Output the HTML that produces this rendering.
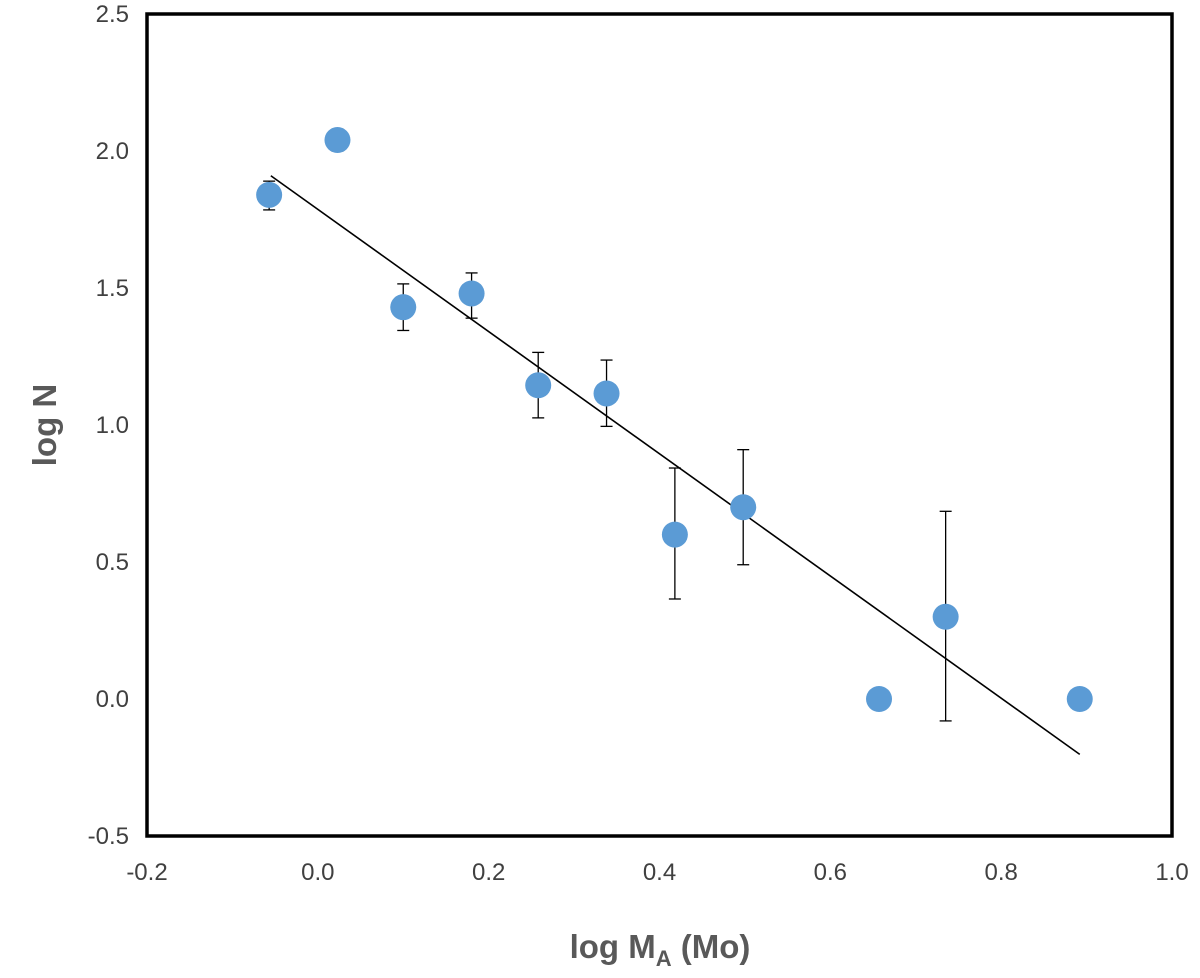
<!DOCTYPE html>
<html><head><meta charset="utf-8"><style>
body{margin:0;background:#fff;}
svg{display:block;font-family:"Liberation Sans",sans-serif;}
</style></head><body>
<svg id="chart" width="1200" height="978">
<g id="axes"></g><g id="marks"></g>
</svg>
<script>
const xTicks=[-0.2,0.0,0.2,0.4,0.6,0.8,1.0];
const yTicks=[-0.5,0.0,0.5,1.0,1.5,2.0,2.5];
const xVals=[-0.057,0.023,0.100,0.180,0.258,0.338,0.418,0.498,0.657,0.735,0.892];
const yVals=[1.84,2.04,1.43,1.48,1.145,1.115,0.60,0.70,0.0,0.30,0.0];
const errLo=[1.785,2.00,1.345,1.39,1.026,0.995,0.365,0.49,null,-0.08,null];
const errHi=[1.89,2.08,1.515,1.555,1.265,1.237,0.843,0.91,null,0.685,null];
const fitX=[-0.055,0.892];
const fitSlope=-2.23, fitIntercept=1.787;
const L=147,R=1172,T=14,B=836;
const sx=v=>L+(v+0.2)/1.2*(R-L);
const sy=v=>B-(v+0.5)/3.0*(B-T);
const NS="http://www.w3.org/2000/svg";
function mk(tag,attrs,parent,text){const e=document.createElementNS(NS,tag);for(const k in attrs)e.setAttribute(k,attrs[k]);if(text!==undefined)e.textContent=text;parent.appendChild(e);return e;}
const axes=document.getElementById('axes'),marks=document.getElementById('marks');
const frame=mk('rect',{x:L,y:T,width:R-L,height:B-T,fill:'none',stroke:'#000','stroke-width':3.5},axes);


xTicks.forEach(v=>{const t=mk('text',{x:sx(v),y:B+44,'text-anchor':'middle','font-size':24,fill:'#404040'},axes,v.toFixed(1));

});
yTicks.forEach(v=>{const t=mk('text',{x:L-18,y:sy(v)+8,'text-anchor':'end','font-size':24,fill:'#404040'},axes,v.toFixed(1));

});
const yt=mk('text',{x:0,y:0,transform:'translate(56,425) rotate(-90)','text-anchor':'middle','font-size':33,'font-weight':'bold',fill:'#595959'},axes,'log N');


const xt=mk('text',{x:660,y:958,'text-anchor':'middle','font-size':33,'font-weight':'bold',fill:'#595959'},axes);


xt.innerHTML='log M<tspan font-size="22" dy="8">A</tspan><tspan dy="-8"> (Mo)</tspan>';
const fl=mk('line',{x1:sx(fitX[0]),y1:sy(fitIntercept+fitSlope*fitX[0]),x2:sx(fitX[1]),y2:sy(fitIntercept+fitSlope*fitX[1]),stroke:'#000','stroke-width':1.6},marks);


xVals.forEach((x,i)=>{
 if(errLo[i]!==null){const g=mk('g',{stroke:'#000','stroke-width':1.3},marks);
 
 
 const cx=sx(x),a=sy(errLo[i]),b=sy(errHi[i]);
 mk('line',{x1:cx,y1:a,x2:cx,y2:b},g);mk('line',{x1:cx-6,y1:a,x2:cx+6,y2:a},g);mk('line',{x1:cx-6,y1:b,x2:cx+6,y2:b},g);}
});
xVals.forEach((x,i)=>{const c=mk('circle',{cx:sx(x),cy:sy(yVals[i]),r:13,fill:'#5B9BD5'},marks);

});
</script>
</body></html>
